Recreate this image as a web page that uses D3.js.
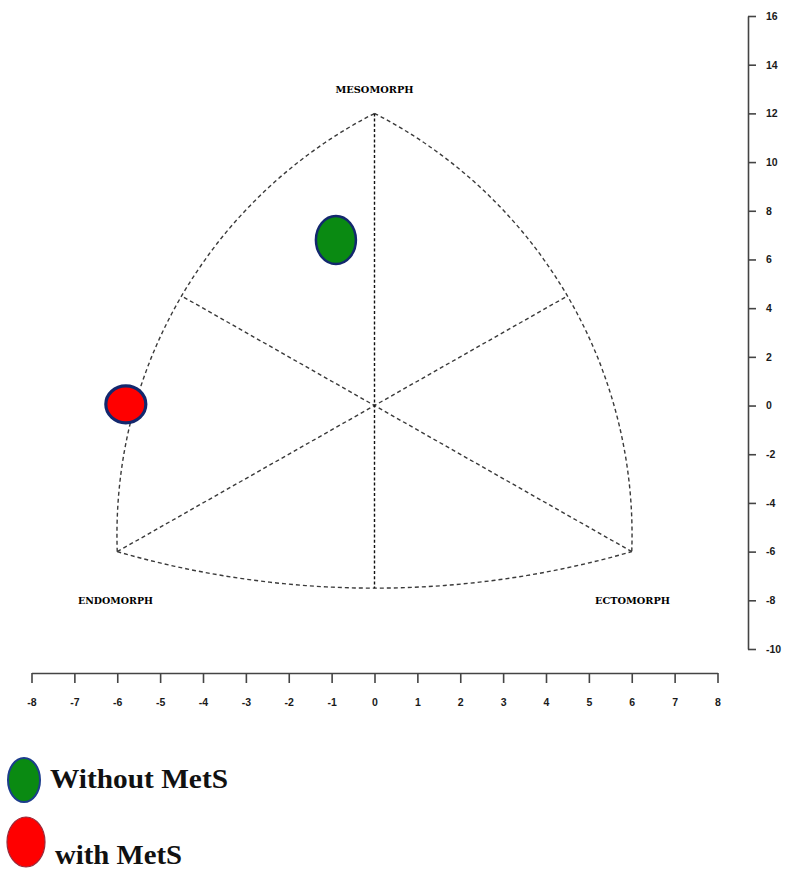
<!DOCTYPE html>
<html>
<head>
<meta charset="utf-8">
<script src="https://cdn.jsdelivr.net/npm/d3@7"></script>
<style>
  html, body { margin: 0; padding: 0; background: #fff; }
  svg { display: block; }
</style>
</head>
<body>
<svg id="chart" width="785" height="869"></svg>
<script>
// Somatochart: group mean somatopoints (X = ecto - endo, Y = 2·meso - (endo + ecto))
const groups   = ["Without MetS", "with MetS"];
const pointX   = [-0.9, -5.8];
const pointY   = [6.8, 0.05];
const colors   = ["#0a8a12", "#ff0000"];

// Somatochart frame reference points
const vertexNames = ["MESOMORPH", "ENDOMORPH", "ECTOMORPH"];
const vertexX     = [0, -6, 6];
const vertexY     = [12, -6, -6];
const arcMidX     = [-4.5, 4.5, 0];   // mid points of left, right, bottom arcs
const arcMidY     = [4.5, 4.5, -7.5];

// Axis ticks
const xTicks = d3.range(-8, 9, 1);
const yTicks = d3.range(-10, 17, 2);

const svg = d3.select("#chart");

const x = d3.scaleLinear().domain([-8, 8]).range([31.5, 717.5]);
const y = d3.scaleLinear().domain([-10, 16]).range([649, 16]);

const P = (dx, dy) => [x(dx), y(dy)];

// Circular arc through three screen points, as an SVG path
function arcPath(a, b, c) {
  const ax = a[0], ay = a[1], bx = b[0], by = b[1], cx = c[0], cy = c[1];
  const d = 2 * (ax * (by - cy) + bx * (cy - ay) + cx * (ay - by));
  const ux = ((ax*ax + ay*ay) * (by - cy) + (bx*bx + by*by) * (cy - ay) + (cx*cx + cy*cy) * (ay - by)) / d;
  const uy = ((ax*ax + ay*ay) * (cx - bx) + (bx*bx + by*by) * (ax - cx) + (cx*cx + cy*cy) * (bx - ax)) / d;
  const r = Math.hypot(ax - ux, ay - uy);
  const cross = (bx - ax) * (cy - ay) - (by - ay) * (cx - ax);
  const sweep = cross > 0 ? 1 : 0;
  return `M${ax},${ay} A${r},${r} 0 0 ${sweep} ${cx},${cy}`;
}

const meso = P(vertexX[0], vertexY[0]);
const endo = P(vertexX[1], vertexY[1]);
const ecto = P(vertexX[2], vertexY[2]);
const mids = arcMidX.map((mx, i) => P(mx, arcMidY[i]));

const frame = svg.append("g")
  .attr("fill", "none")
  .attr("stroke", "#3a3a3a")
  .attr("stroke-width", 1.4)
  .attr("stroke-dasharray", "4,3");

// outer arcs
frame.append("path").attr("d", arcPath(endo, mids[0], meso));
frame.append("path").attr("d", arcPath(meso, mids[1], ecto));
frame.append("path").attr("d", arcPath(endo, mids[2], ecto));

// diagonals through the origin
frame.append("line")
  .attr("x1", endo[0]).attr("y1", endo[1])
  .attr("x2", mids[1][0]).attr("y2", mids[1][1]);
frame.append("line")
  .attr("x1", ecto[0]).attr("y1", ecto[1])
  .attr("x2", mids[0][0]).attr("y2", mids[0][1]);

// vertical axis of the chart
frame.append("line")
  .attr("x1", x(0)).attr("y1", meso[1])
  .attr("x2", x(0)).attr("y2", mids[2][1])
  .attr("stroke", "#111")
  .attr("stroke-dasharray", "3,2.2");

// vertex labels
const labelPos = [
  { cx: x(0), by: 93 },
  { cx: 115.5, by: 604 },
  { cx: 632.5, by: 604 }
];
svg.append("g").selectAll("text")
  .data(vertexNames)
  .join("text")
  .attr("x", (d, i) => labelPos[i].cx)
  .attr("y", (d, i) => labelPos[i].by)
  .attr("text-anchor", "middle")
  .attr("font-family", "'DejaVu Serif', serif")
  .attr("font-weight", "bold")
  .attr("font-size", 9)
  .attr("textLength", (d, i) => i === 0 ? 78 : 75)
  .attr("lengthAdjust", "spacingAndGlyphs")
  .attr("fill", "#000")
  .text(d => d);

// group somatopoints
const pointRx = [20, 20];
const pointRy = [24, 18.5];
svg.append("g").selectAll("ellipse")
  .data(groups)
  .join("ellipse")
  .attr("cx", (d, i) => x(pointX[i]))
  .attr("cy", (d, i) => y(pointY[i]))
  .attr("rx", (d, i) => pointRx[i])
  .attr("ry", (d, i) => pointRy[i])
  .attr("fill", (d, i) => colors[i])
  .attr("stroke", "#13286e")
  .attr("stroke-width", (d, i) => i === 0 ? 2.5 : 3.2);

// axes
const xAxis = svg.append("g")
  .attr("transform", "translate(0,673)")
  .call(d3.axisBottom(x).tickValues(xTicks).tickSize(10).tickSizeOuter(0)
    .tickPadding(16).tickFormat(d => String(d)));

const yAxis = svg.append("g")
  .attr("transform", "translate(748,0)")
  .call(d3.axisRight(y).tickValues(yTicks).tickSize(8).tickSizeOuter(0)
    .tickPadding(10).tickFormat(d => String(d)));

[xAxis, yAxis].forEach(g => {
  g.select(".domain").attr("stroke", "#444").attr("stroke-width", 1.6);
  g.selectAll(".tick line").attr("stroke", "#444").attr("stroke-width", 1.6);
  g.selectAll(".tick text")
    .attr("font-family", "'Liberation Sans', Arial, sans-serif")
    .attr("font-size", 10.5)
    .attr("font-weight", "bold")
    .attr("fill", "#1a1a1a");
});

// legend
const legendCy = [780, 842];
const legendRx = [16, 19];
const legendRy = [22, 25];
const legendTextX = [50, 55];
const legendTextY = [788, 864];
const legendTextLen = [178, 127];
const legend = svg.append("g");
legend.selectAll("ellipse")
  .data(groups)
  .join("ellipse")
  .attr("cx", (d, i) => i === 0 ? 24 : 26)
  .attr("cy", (d, i) => legendCy[i])
  .attr("rx", (d, i) => legendRx[i])
  .attr("ry", (d, i) => legendRy[i])
  .attr("fill", (d, i) => colors[i])
  .attr("stroke", (d, i) => i === 0 ? "#1c3d8c" : "#9a2a3a")
  .attr("stroke-width", (d, i) => i === 0 ? 2 : 1.2);

legend.selectAll("text")
  .data(groups)
  .join("text")
  .attr("x", (d, i) => legendTextX[i])
  .attr("y", (d, i) => legendTextY[i])
  .attr("font-family", "'Liberation Serif', 'Times New Roman', serif")
  .attr("font-weight", "bold")
  .attr("font-size", 28)
  .attr("textLength", (d, i) => legendTextLen[i])
  .attr("lengthAdjust", "spacingAndGlyphs")
  .attr("fill", "#111")
  .text(d => d);
</script>
</body>
</html>
